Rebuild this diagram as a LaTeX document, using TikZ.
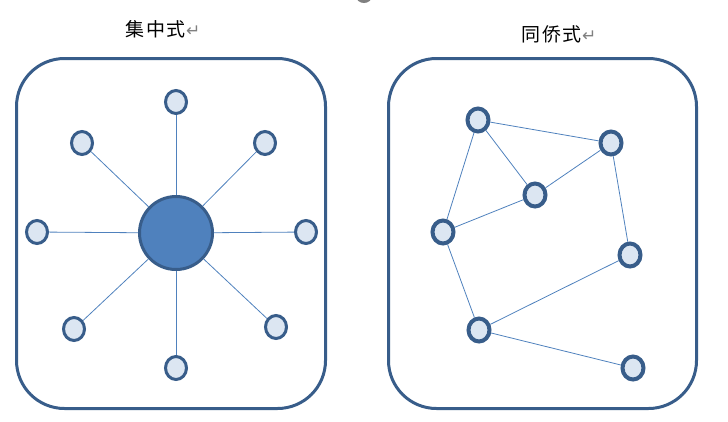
\documentclass[tikz,border=0pt]{standalone}
\usepackage{fontspec}
\usetikzlibrary{shapes.geometric}
\newfontfamily\cjk[LetterSpace=10]{Noto Sans CJK SC}
\newfontfamily\symb{DejaVu Sans}
\definecolor{edgeblue}{HTML}{385D8A}
\definecolor{hubblue}{HTML}{4F81BD}
\definecolor{leafblue}{HTML}{DCE6F2}
\begin{document}
\begin{tikzpicture}[x=1pt,y=-1pt,
    frame/.style={draw=edgeblue,line width=3pt,rounded corners=48pt},
    leaf/.style={ellipse,draw=edgeblue,fill=leafblue,line width=3pt,minimum width=21pt,minimum height=23pt,inner sep=0pt},
    peer/.style={leaf,line width=4pt},
    hub/.style={circle,draw=edgeblue,fill=hubblue,line width=3pt,minimum size=73pt,inner sep=0pt},
    link/.style={draw=hubblue,line width=0.8pt},
    title/.style={font=\cjk\fontsize{19}{19}\selectfont,inner sep=0pt}]
    \useasboundingbox (0,0) rectangle (728,421);

    \def\ret{{\symb\color{gray}\fontsize{17}{17}\selectfont ↵}}	%paragraph mark

    %TITLES
    \node[title,anchor=west] (tcentral) at (125,29) {集中式\ret};
    \node[title,anchor=west] (tpeer) at (521,34) {同侨式\ret};
    \fill[gray] (364,-4) ellipse (8 and 7);	%cut-off mark at top

    %FRAMES
    \draw[frame] (16.5,58.5) rectangle (325.5,408.5);
    \draw[frame] (388.5,58.5) rectangle (696.5,408.5);

    %CENTRAL: hub and leaves
    \node[hub] (hub) at (176,233) {};
    \foreach \name/\x/\y in {n/176/102, nw/82/143, ne/265/143, w/37/232,
                             e/306/232, sw/74/329, se/276/327, s/176/368}{
        \node[leaf] (\name) at (\x,\y) {};
        \draw[link] (hub) -- (\name);
    } %end of leaf loop

    %PEER TO PEER
    \foreach \name/\x/\y in {pa/478/120, pb/611/143, pc/535/195, pd/443/232,
                             pe/630/255, pf/479/330, pg/633/368}{
        \node[peer] (\name) at (\x,\y) {};
    } %end of peer loop
    \foreach \a/\b in {pa/pb, pa/pc, pa/pd, pc/pb, pc/pd, pb/pe, pd/pf, pf/pe, pf/pg}{
        \draw[link] (\a) -- (\b);
    } %end of link loop
\end{tikzpicture}
\end{document}
